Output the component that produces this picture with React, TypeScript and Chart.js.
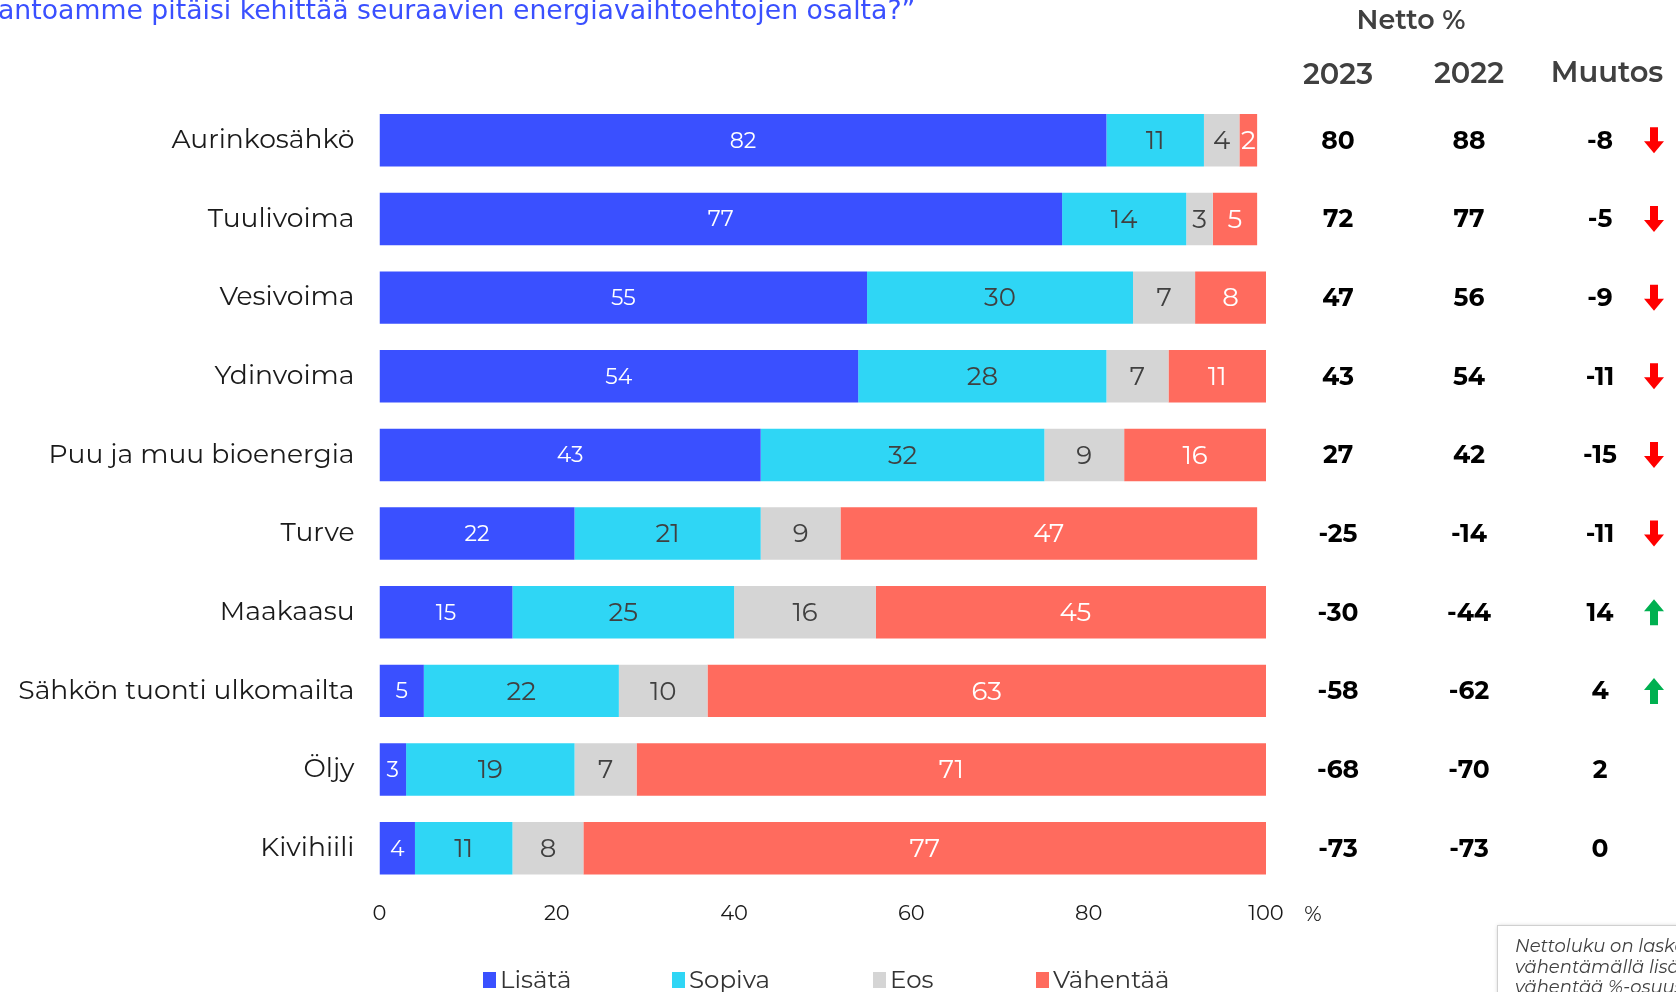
import React, { useEffect, useRef } from "react";
import { Chart, registerables } from "chart.js";

Chart.register(...registerables);

const categories = [
  "Aurinkosähkö",
  "Tuulivoima",
  "Vesivoima",
  "Ydinvoima",
  "Puu ja muu bioenergia",
  "Turve",
  "Maakaasu",
  "Sähkön tuonti ulkomailta",
  "Öljy",
  "Kivihiili",
];
const lisata = [82, 77, 55, 54, 43, 22, 15, 5, 3, 4];
const sopiva = [11, 14, 30, 28, 32, 21, 25, 22, 19, 11];
const eos = [4, 3, 7, 7, 9, 9, 16, 10, 7, 8];
const vahentaa = [2, 5, 8, 11, 16, 47, 45, 63, 71, 77];
const netto2023 = [80, 72, 47, 43, 27, -25, -30, -58, -68, -73];
const netto2022 = [88, 77, 56, 54, 42, -14, -44, -62, -70, -73];
const muutos = [-8, -5, -9, -11, -15, -11, 14, 4, 2, 0];
const arrows = ["down", "down", "down", "down", "down", "down", "up", "up", "", ""];
const seriesNames = ["Lisätä", "Sopiva", "Eos", "Vähentää"];
const xTicks = [0, 20, 40, 60, 80, 100];

const COLORS = ["#3a50ff", "#2fd6f5", "#d5d5d5", "#ff6b5e"];
const LABEL_COLORS = ["#ffffff", "#404040", "#404040", "#ffffff"];
const FONT = "Montserrat, 'Open Sans', sans-serif";
const LEGEND_X = [483, 672, 873, 1036];

const W = 1676;
const H = 992;

const overlayPlugin = {
  id: "overlay",
  afterDatasetsDraw(chart: any) {
    const ctx = chart.ctx;
    ctx.save();
    ctx.textBaseline = "middle";
    ctx.textAlign = "center";
    chart.data.datasets.forEach((ds: any, di: number) => {
      const meta = chart.getDatasetMeta(di);
      meta.data.forEach((el: any, i: number) => {
        const v = ds.data[i];
        const x = (el.x + el.base) / 2;
        ctx.fillStyle = LABEL_COLORS[di];
        ctx.font = di === 0 ? `400 22px ${FONT}` : `400 26px ${FONT}`;
        ctx.fillText(String(v), x, el.y + 1);
      });
    });
    ctx.restore();
  },
  afterDraw(chart: any) {
    const ctx = chart.ctx;
    const y = chart.scales.y;
    ctx.save();
    // title
    ctx.textBaseline = "middle";
    ctx.textAlign = "left";
    ctx.fillStyle = "#3a50ff";
    ctx.font = `400 26.7px 'DejaVu Sans', sans-serif`;
    ctx.fillText("antoamme pitäisi kehittää seuraavien energiavaihtoehtojen osalta?”", -2, 12);

    // % unit
    ctx.fillStyle = "#1a1a1a";
    ctx.font = `400 21px ${FONT}`;
    ctx.textAlign = "center";
    ctx.fillText("%", 1313, 915);

    // table headers
    ctx.fillStyle = "#404040";
    ctx.font = `600 27px ${FONT}`;
    ctx.fillText("Netto %", 1411, 21);
    ctx.font = `600 29px ${FONT}`;
    ctx.fillText("2023", 1338, 75);
    ctx.fillText("2022", 1469, 74);
    ctx.fillText("Muutos", 1607, 73);

    // table values
    ctx.fillStyle = "#000000";
    ctx.font = `700 25px ${FONT}`;
    categories.forEach((_, i) => {
      const yy = y.getPixelForValue(i) + 1;
      ctx.fillText(String(netto2023[i]), 1338, yy);
      ctx.fillText(String(netto2022[i]), 1469, yy);
      ctx.fillText(String(muutos[i]), 1600, yy);
      const a = arrows[i];
      if (a) {
        const ax = 1654;
        const ay = yy - 1;
        ctx.fillStyle = a === "down" ? "#ff0000" : "#00b050";
        ctx.beginPath();
        if (a === "down") {
          ctx.moveTo(ax - 4, ay - 13);
          ctx.lineTo(ax + 4, ay - 13);
          ctx.lineTo(ax + 4, ay + 1);
          ctx.lineTo(ax + 10, ay + 1);
          ctx.lineTo(ax, ay + 13);
          ctx.lineTo(ax - 10, ay + 1);
          ctx.lineTo(ax - 4, ay + 1);
        } else {
          ctx.moveTo(ax - 4, ay + 13);
          ctx.lineTo(ax + 4, ay + 13);
          ctx.lineTo(ax + 4, ay - 1);
          ctx.lineTo(ax + 10, ay - 1);
          ctx.lineTo(ax, ay - 13);
          ctx.lineTo(ax - 10, ay - 1);
          ctx.lineTo(ax - 4, ay - 1);
        }
        ctx.closePath();
        ctx.fill();
        ctx.fillStyle = "#000000";
      }
    });

    // legend
    ctx.textAlign = "left";
    ctx.font = `400 24.5px ${FONT}`;
    seriesNames.forEach((name, i) => {
      const lx = LEGEND_X[i];
      ctx.fillStyle = COLORS[i];
      ctx.fillRect(lx, 972, 13, 16);
      ctx.fillStyle = "#333333";
      ctx.fillText(name, lx + 17, 981);
    });

    // note box
    ctx.save();
    ctx.shadowColor = "rgba(0,0,0,0.25)";
    ctx.shadowBlur = 4;
    ctx.shadowOffsetX = 1;
    ctx.shadowOffsetY = 1;
    ctx.fillStyle = "#ffffff";
    ctx.fillRect(1497, 925, 200, 100);
    ctx.restore();
    ctx.strokeStyle = "#d0d0d0";
    ctx.lineWidth = 1;
    ctx.strokeRect(1497.5, 925.5, 200, 100);
    ctx.fillStyle = "#404040";
    ctx.font = `italic 400 18px ${FONT}`;
    ctx.fillText("Nettoluku on laskettu", 1515, 947);
    ctx.fillText("vähentämällä lisätä %-osuudesta", 1515, 968);
    ctx.fillText("vähentää %-osuus", 1515, 988);
    ctx.restore();
  },
};

export default function App() {
  const ref = useRef<HTMLCanvasElement | null>(null);
  useEffect(() => {
    if (!ref.current) return;
    const datasets = [lisata, sopiva, eos, vahentaa].map((d, i) => ({
      label: seriesNames[i],
      data: d,
      backgroundColor: COLORS[i],
      borderWidth: 0,
      categoryPercentage: 1,
      barPercentage: 0.667,
    }));
    const chart = new Chart(ref.current, {
      type: "bar",
      data: { labels: categories, datasets },
      options: {
        indexAxis: "y",
        animation: false,
        responsive: false,
        maintainAspectRatio: false,
        layout: { padding: { top: 101, right: 410, bottom: 0, left: 0 } },
        plugins: { legend: { display: false }, tooltip: { enabled: false } },
        scales: {
          x: {
            stacked: true,
            min: 0,
            max: 100,
            afterFit: (s: any) => {
              s.height = 104.5;
            },
            afterBuildTicks: (s: any) => {
              s.ticks = xTicks.map((v) => ({ value: v }));
            },
            grid: { display: false, drawTicks: false },
            border: { display: false },
            ticks: {
              color: "#1a1a1a",
              padding: 14,
              font: { family: FONT, size: 21 },
              maxRotation: 0,
            },
          },
          y: {
            stacked: true,
            afterFit: (s: any) => {
              s.width = 379.5;
            },
            grid: { display: false, drawTicks: false },
            border: { display: false },
            ticks: {
              color: "#1a1a1a",
              padding: 25,
              font: { family: FONT, size: 26.6, weight: "400" as any },
            },
          },
        },
      },
      plugins: [overlayPlugin],
    });
    return () => chart.destroy();
  }, []);
  return (
    <div style={{ position: "absolute", left: 0, top: 0, width: W, height: H, background: "#fff" }}>
      <canvas ref={ref} width={W} height={H} style={{ display: "block", width: W, height: H }} />
    </div>
  );
}
